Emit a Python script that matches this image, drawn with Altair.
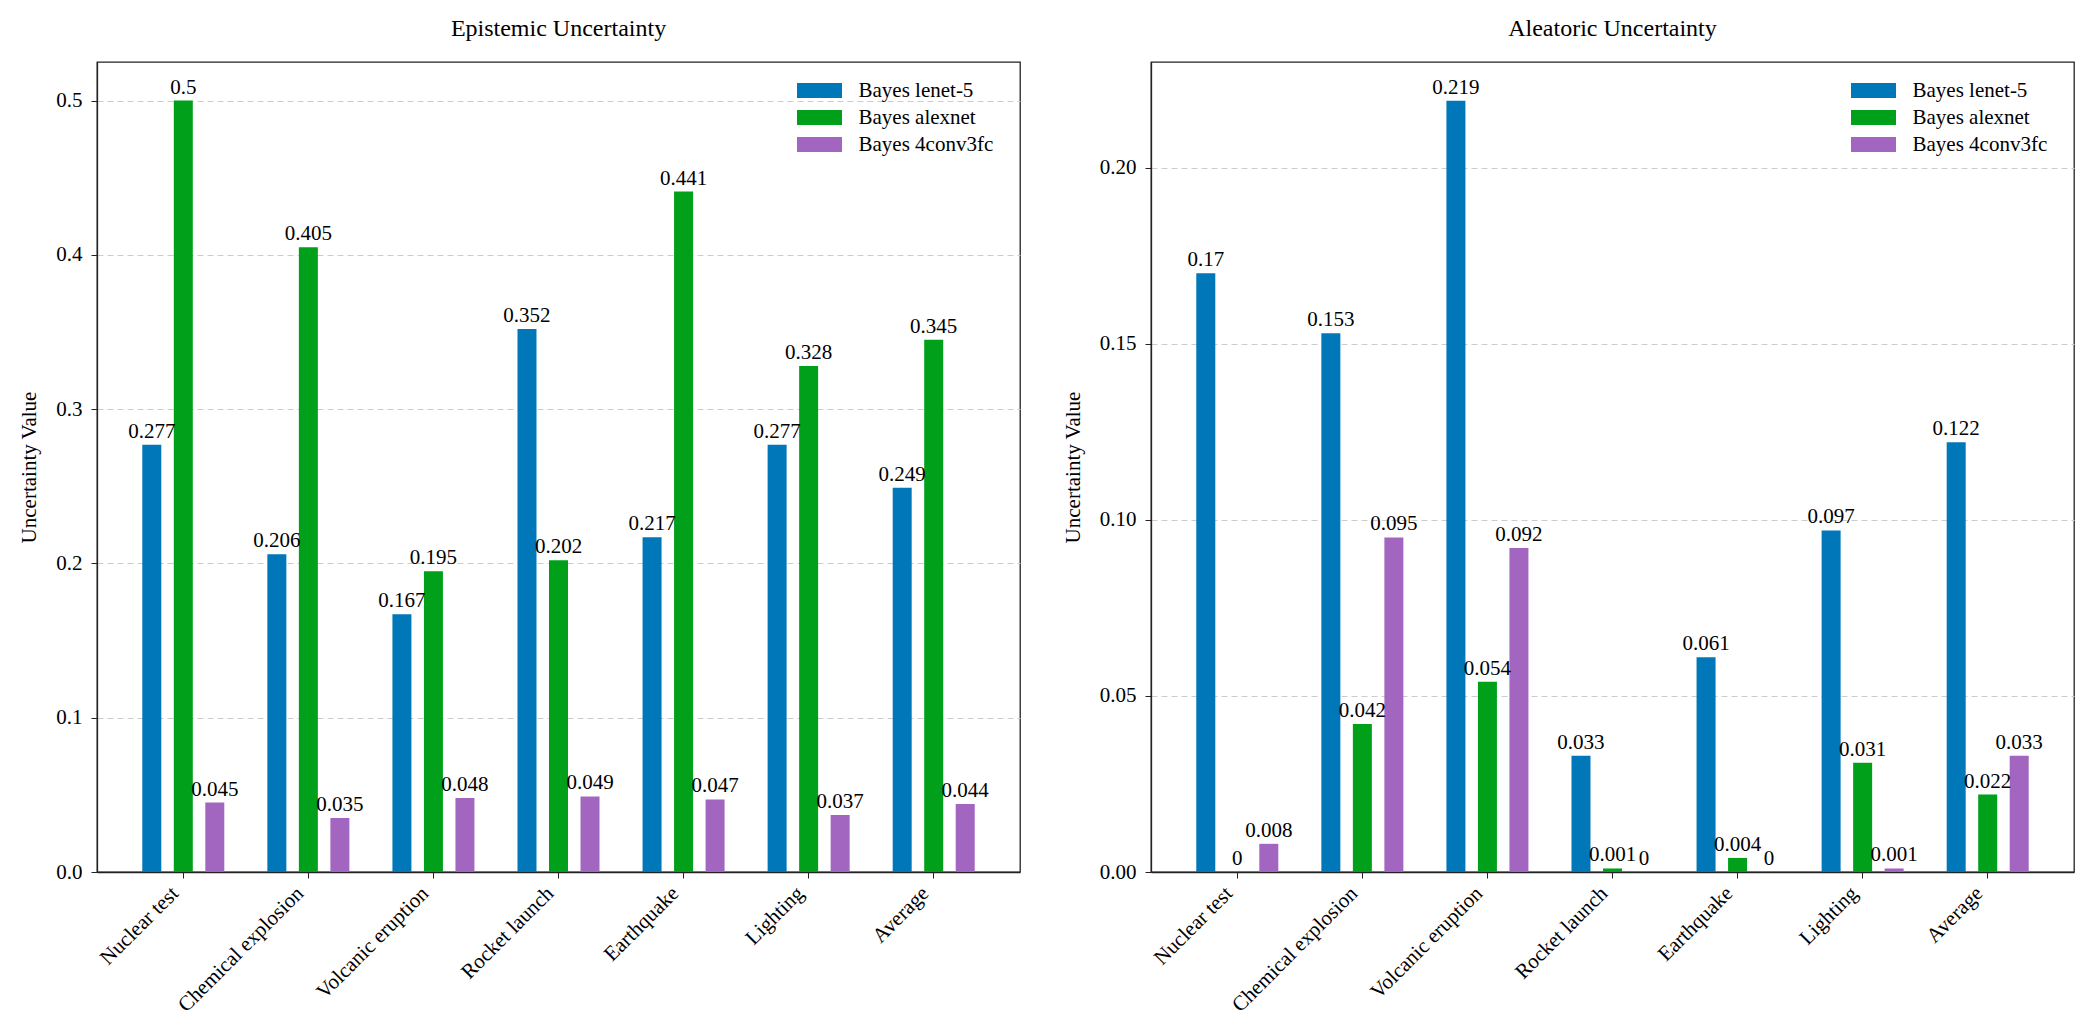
import altair as alt
import pandas as pd

categories = ["Nuclear test", "Chemical explosion", "Volcanic eruption",
              "Rocket launch", "Earthquake", "Lighting", "Average"]
models = ["Bayes lenet-5", "Bayes alexnet", "Bayes 4conv3fc"]
colors = ["#0077b8", "#00a01a", "#a266c0"]

epi_lenet = [0.277, 0.206, 0.167, 0.352, 0.217, 0.277, 0.249]
epi_alexnet = [0.5, 0.405, 0.195, 0.202, 0.441, 0.328, 0.345]
epi_4conv3fc = [0.045, 0.035, 0.048, 0.049, 0.047, 0.037, 0.044]

ale_lenet = [0.17, 0.153, 0.219, 0.033, 0.061, 0.097, 0.122]
ale_alexnet = [0, 0.042, 0.054, 0.001, 0.004, 0.031, 0.022]
ale_4conv3fc = [0.008, 0.095, 0.092, 0, 0, 0.001, 0.033]

FONT = "Liberation Serif"


def make_df(series):
    rows = []
    for m, vals in zip(models, series):
        for c, v in zip(categories, vals):
            rows.append({"category": c, "model": m, "value": v, "label": f"{v:g}"})
    return pd.DataFrame(rows)


def panel(df, title, ymax, ticks, fmt):
    base = alt.Chart(df).encode(
        x=alt.X("category:N", sort=categories, title=None,
                scale=alt.Scale(paddingInner=0, paddingOuter=0.19),
                axis=alt.Axis(labelAngle=-45, labelAlign="right", labelBaseline="middle",
                              labelOffset=-8, labelPadding=12, tickSize=6, grid=False,
                              labelFontSize=21, labelFont=FONT, labelColor="black",
                              domainColor="#222", tickColor="#222", domainWidth=1.3)),
        xOffset=alt.XOffset("model:N", sort=models,
                            scale=alt.Scale(paddingInner=0.397, paddingOuter=0.683)),
        y=alt.Y("value:Q",
                scale=alt.Scale(domain=[0, ymax], nice=False, zero=True),
                axis=alt.Axis(values=ticks, format=fmt, title="Uncertainty Value",
                              titleFontSize=21, titleFont=FONT, titleFontWeight="normal",
                              titleColor="black", titlePadding=16,
                              labelFontSize=21, labelFont=FONT, labelColor="black",
                              labelPadding=9, tickSize=6, tickColor="#222",
                              domainColor="#222", domainWidth=1.3,
                              grid=True, gridDash=[6, 4], gridColor="#cccccc", gridWidth=1)),
    )
    bars = base.mark_bar().encode(
        color=alt.Color("model:N", sort=models,
                        scale=alt.Scale(domain=models, range=colors),
                        legend=alt.Legend(title=None, orient="none", legendX=707.5, legendY=13.5,
                                          symbolType="M-1.5,-0.5L1.5,-0.5L1.5,0.5L-1.5,0.5Z",
                                          symbolSize=900, symbolStrokeWidth=0,
                                          labelFontSize=21, labelFont=FONT, labelColor="black",
                                          labelOffset=24, rowPadding=2, padding=0))
    )
    text = base.mark_text(baseline="bottom", dy=-3, fontSize=21, font=FONT,
                          color="black").encode(text="label:N")
    return alt.layer(bars, text).properties(
        width=923, height=810,
        view=alt.ViewBackground(stroke="#222222", strokeWidth=1.3, fill="white"),
        title=alt.TitleParams(title, fontSize=24, font=FONT, fontWeight="normal",
                              color="black", anchor="middle", frame="group",
                              baseline="alphabetic", offset=2),
    )


left = panel(make_df([epi_lenet, epi_alexnet, epi_4conv3fc]), "Epistemic Uncertainty",
             0.525, [0, 0.1, 0.2, 0.3, 0.4, 0.5], ".1f")
right = panel(make_df([ale_lenet, ale_alexnet, ale_4conv3fc]), "Aleatoric Uncertainty",
              0.23, [0, 0.05, 0.1, 0.15, 0.2], ".2f")

chart = alt.hconcat(left, right, spacing=40).resolve_scale(
    y="independent", x="independent", xOffset="independent", color="independent"
).resolve_legend(color="independent").properties(
    padding={"left": 10, "top": 8, "right": 5, "bottom": 5}
).configure_view(stroke="#222222", strokeWidth=1.3).configure(background="white")

chart.save("out.html", embed_options={"renderer": "svg", "actions": False})
